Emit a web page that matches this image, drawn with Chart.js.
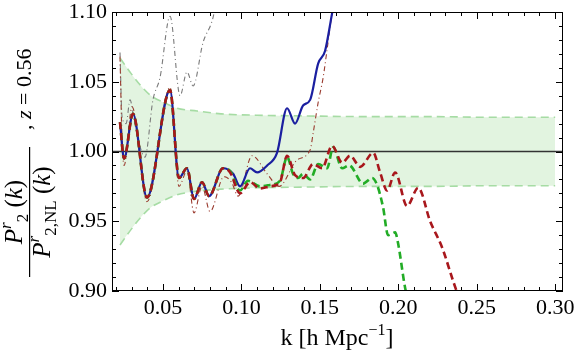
<!DOCTYPE html>
<html lang="en">
<head>
<meta charset="UTF-8">
<title>P^r_2 ratio, z = 0.56</title>
<script src="https://cdn.jsdelivr.net/npm/chart.js"></script>
<style>
    html, body { margin: 0; padding: 0; background: #fff; }
    .chart-container { position: relative; width: 576px; height: 354px; }
</style>
</head>
<body>
<div class="chart-container">
    <canvas id="ratioChart" width="576" height="354"></canvas>
</div>
<script>
    // values
    const kBlue = [0.0226,0.0252,0.0309,0.0398,0.0545,0.0602,0.0653,0.0698,0.0749,0.0794,
                   0.0883,0.0947,0.0991,0.1055,0.1100,0.1164,0.1227,0.1291,0.1342,0.1393,
                   0.1438,0.1489,0.1533,0.1578,0.1610];
    const pBlue = [1.021,0.995,1.027,0.967,1.044,0.981,0.988,0.966,0.978,0.968,
                   0.988,0.984,0.975,0.988,0.985,0.990,0.999,1.031,1.020,1.033,
                   1.037,1.063,1.072,1.099,1.118];

    const kRed = [0.0226,0.0252,0.0309,0.0398,0.0545,0.0602,0.0653,0.0698,0.0749,0.0794,
                  0.0883,0.0928,0.0991,0.1055,0.1119,0.1182,0.1246,0.1291,0.1342,0.1393,
                  0.1457,0.1514,0.1578,0.1642,0.1693,0.1757,0.1840,0.1884,0.1929,0.1980,
                  0.2056,0.2127,0.2203,0.2280,0.2350,0.2390];
    const pRed = [1.021,0.995,1.027,0.967,1.044,0.981,0.988,0.966,0.978,0.968,
                  0.988,0.985,0.970,0.978,0.9735,0.975,0.978,0.997,0.983,0.981,
                  0.991,0.988,1.004,0.992,0.997,0.989,0.999,0.985,0.972,0.985,
                  0.961,0.974,0.950,0.931,0.907,0.894];

    const kGreen = [0.0226,0.0252,0.0309,0.0398,0.0545,0.0602,0.0653,0.0698,0.0749,0.0794,
                    0.0883,0.0928,0.0991,0.1042,0.1119,0.1182,0.1246,0.1291,0.1329,0.1361,
                    0.1393,0.1438,0.1489,0.1546,0.1585,0.1642,0.1687,0.1776,0.1833,0.1865,
                    0.1903,0.1935,0.1980,0.1999,0.2044,0.2065];
    const pGreen = [1.021,0.995,1.027,0.967,1.044,0.981,0.988,0.966,0.978,0.968,
                    0.988,0.986,0.972,0.979,0.975,0.976,0.979,0.996,0.984,0.981,
                    0.984,0.980,0.991,0.988,1.003,0.988,0.990,0.977,0.981,0.976,
                    0.960,0.940,0.942,0.934,0.902,0.893];

    const kRedDotDash = [0.0226,0.0239,0.0252,0.0303,0.0398,0.0545,0.0602,0.0653,0.0698,0.0749,
                         0.0800,0.0889,0.0937,0.0979,0.1068,0.1164,0.1240,0.1355,0.1438,0.1457,
                         0.1489,0.1521,0.1546,0.1578,0.1610];
    const pRedDotDash = [1.068,1.010,0.990,1.032,0.964,1.046,0.975,0.986,0.956,0.975,
                         0.957,0.982,0.978,0.968,0.997,0.984,0.975,0.994,1.001,1.013,
                         1.035,1.053,1.073,1.099,1.118];

    const kGray = [0.0226,0.0239,0.0265,0.0290,0.0320,0.0385,0.0436,0.0481,0.0545,0.0609,
                   0.0653,0.0692,0.0755,0.0819,0.0850];
    const pGray = [1.071,1.025,1.020,1.037,1.020,0.996,1.037,1.053,1.097,1.040,
                   1.057,1.047,1.078,1.096,1.115];

    const kBand = [0.0226,0.0296,0.0360,0.0424,0.0507,0.0590,0.0717,0.0870,0.110,0.14,0.18,0.22,0.26,0.30];
    const bandUpper = [1.067,1.056,1.047,1.040,1.035,1.031,1.029,1.027,1.026,1.0255,1.025,1.025,1.0245,1.0245];
    const bandLower = [0.933,0.944,0.953,0.960,0.965,0.969,0.9715,0.973,0.974,0.9745,0.975,0.975,0.9755,0.9755];

    const kUnity = [0.0175, 0.305];
    const pUnity = [1.0, 1.0];

    const xTickLabels = [0.05, 0.10, 0.15, 0.20, 0.25, 0.30];
    const yTickLabels = [0.90, 0.95, 1.00, 1.05, 1.10];

    const SERIF = '"Liberation Serif", "Times New Roman", Times, serif';

    function pts(ks, vs) {
        return ks.map((k, i) => ({ x: k, y: vs[i] }));
    }

    function drawRuns(ctx, runs, x0, y0, fromLeft) {
        let total = 0;
        runs.forEach(r => { ctx.font = r.f; r.w = ctx.measureText(r.t).width; total += r.w; });
        let cx = fromLeft ? x0 : x0 - total / 2;
        runs.forEach(r => {
            ctx.font = r.f;
            ctx.fillText(r.t, cx, y0 + r.dy);
            cx += r.w;
        });
    }

    // frame with inward ticks on all four sides, plus the axis titles
    const framePlugin = {
        id: 'frame',
        afterDatasetsDraw(chart) {
            const { ctx, chartArea: a, scales: { x, y } } = chart;
            ctx.save();
            ctx.strokeStyle = '#000';
            ctx.lineWidth = 1;
            ctx.strokeRect(Math.round(a.left) + 0.5, Math.round(a.top) + 0.5,
                Math.round(a.right - a.left) - 1, Math.round(a.bottom - a.top) - 1);
            ctx.beginPath();
            for (let i = 2; i <= 30; i++) {
                const px = Math.round(x.getPixelForValue(i / 100)) + 0.5;
                const len = i % 5 === 0 ? 7 : 4;
                ctx.moveTo(px, a.bottom); ctx.lineTo(px, a.bottom - len);
                ctx.moveTo(px, a.top); ctx.lineTo(px, a.top + len);
            }
            for (let i = 90; i <= 110; i++) {
                const py = Math.round(y.getPixelForValue(i / 100)) + 0.5;
                const len = i % 5 === 0 ? 7 : 4;
                ctx.moveTo(a.left, py); ctx.lineTo(a.left + len, py);
                ctx.moveTo(a.right, py); ctx.lineTo(a.right - len, py);
            }
            ctx.stroke();
            ctx.restore();
        },
        afterDraw(chart) {
            const { ctx } = chart;
            ctx.save();
            ctx.fillStyle = '#000';
            ctx.textBaseline = 'alphabetic';

            // x title
            drawRuns(ctx, [
                { t: 'k [h Mpc', f: '24px ' + SERIF, dy: 0 },
                { t: '\u22121', f: '16px ' + SERIF, dy: -10 },
                { t: ']', f: '24px ' + SERIF, dy: 0 }
            ], 337, 345);

            // y title, rotated fraction
            ctx.translate(30, 212);
            ctx.rotate(-Math.PI / 2);
            drawRuns(ctx, [
                { t: 'P', f: 'italic 25px ' + SERIF, dy: 0 },
                { t: 'r', f: 'italic 17px ' + SERIF, dy: -11 },
                { t: '2', f: '17px ' + SERIF, dy: 6 },
                { t: ' (', f: '25px ' + SERIF, dy: 0 },
                { t: 'k', f: 'italic 25px ' + SERIF, dy: 0 },
                { t: ')', f: '25px ' + SERIF, dy: 0 }
            ], 0, -8);
            drawRuns(ctx, [
                { t: 'P', f: 'italic 25px ' + SERIF, dy: 0 },
                { t: 'r', f: 'italic 17px ' + SERIF, dy: -11 },
                { t: '2,NL', f: '17px ' + SERIF, dy: 6 },
                { t: ' (', f: '25px ' + SERIF, dy: 0 },
                { t: 'k', f: 'italic 25px ' + SERIF, dy: 0 },
                { t: ')', f: '25px ' + SERIF, dy: 0 }
            ], 0, 20);
            ctx.fillRect(-65, -1, 130, 1.2);
            drawRuns(ctx, [
                { t: ', ', f: '22px ' + SERIF, dy: 0 },
                { t: 'z', f: 'italic 22px ' + SERIF, dy: 0 },
                { t: ' = 0.56', f: '22px ' + SERIF, dy: 0 }
            ], 82, 1, true);
            ctx.restore();
        }
    };

    const ctx = document.getElementById('ratioChart').getContext('2d');
    new Chart(ctx, {
        type: 'line',
        data: {
            datasets: [
                { data: pts(kRed, pRed), borderColor: '#a8171c', borderWidth: 2.6, borderDash: [7, 4], order: 0 },
                { data: pts(kGreen, pGreen), borderColor: '#22ac26', borderWidth: 2.6, borderDash: [7, 4], order: 1 },
                { data: pts(kBlue, pBlue), borderColor: '#1b1fa0', borderWidth: 2.2, order: 2 },
                { data: pts(kRedDotDash, pRedDotDash), borderColor: '#9a3a2e', borderWidth: 1.1, borderDash: [5, 3, 1, 3], order: 3 },
                { data: pts(kGray, pGray), borderColor: '#7a7a7a', borderWidth: 1.1, borderDash: [5, 3, 1, 3], order: 4 },
                { data: pts(kUnity, pUnity), borderColor: '#333333', borderWidth: 1.3, order: 5 },
                { data: pts(kBand, bandLower), borderColor: '#a6dca4', borderWidth: 1.6, borderDash: [8, 5], fill: false, order: 6 },
                { data: pts(kBand, bandUpper), borderColor: '#a6dca4', borderWidth: 1.6, borderDash: [8, 5],
                  fill: '-1', backgroundColor: '#e2f4e0', order: 7 }
            ]
        },
        options: {
            responsive: false,
            animation: false,
            layout: { padding: { top: 12, right: 13, left: 0, bottom: 0 } },
            elements: {
                point: { radius: 0 },
                line: { cubicInterpolationMode: 'monotone', borderCapStyle: 'butt' }
            },
            plugins: {
                legend: { display: false },
                tooltip: { enabled: false }
            },
            scales: {
                x: {
                    type: 'linear',
                    min: 0.0175,
                    max: 0.305,
                    grid: { display: false, drawTicks: false },
                    border: { display: false },
                    afterBuildTicks: s => { s.ticks = xTickLabels.map(v => ({ value: v })); },
                    afterFit: s => { s.height = 63; s.paddingLeft = 0; s.paddingRight = 0; },
                    ticks: {
                        padding: 4,
                        maxRotation: 0,
                        autoSkip: false,
                        color: '#000',
                        font: { family: SERIF, size: 22 },
                        callback: v => Number(v).toFixed(2)
                    }
                },
                y: {
                    min: 0.90,
                    max: 1.10,
                    grid: { display: false, drawTicks: false },
                    border: { display: false },
                    afterBuildTicks: s => { s.ticks = yTickLabels.map(v => ({ value: v })); },
                    afterFit: s => { s.width = 112; s.paddingTop = 0; s.paddingBottom = 0; },
                    ticks: {
                        padding: 5,
                        autoSkip: false,
                        color: '#000',
                        font: { family: SERIF, size: 22 },
                        callback: v => Number(v).toFixed(2)
                    }
                }
            }
        },
        plugins: [framePlugin]
    });
</script>
</body>
</html>
